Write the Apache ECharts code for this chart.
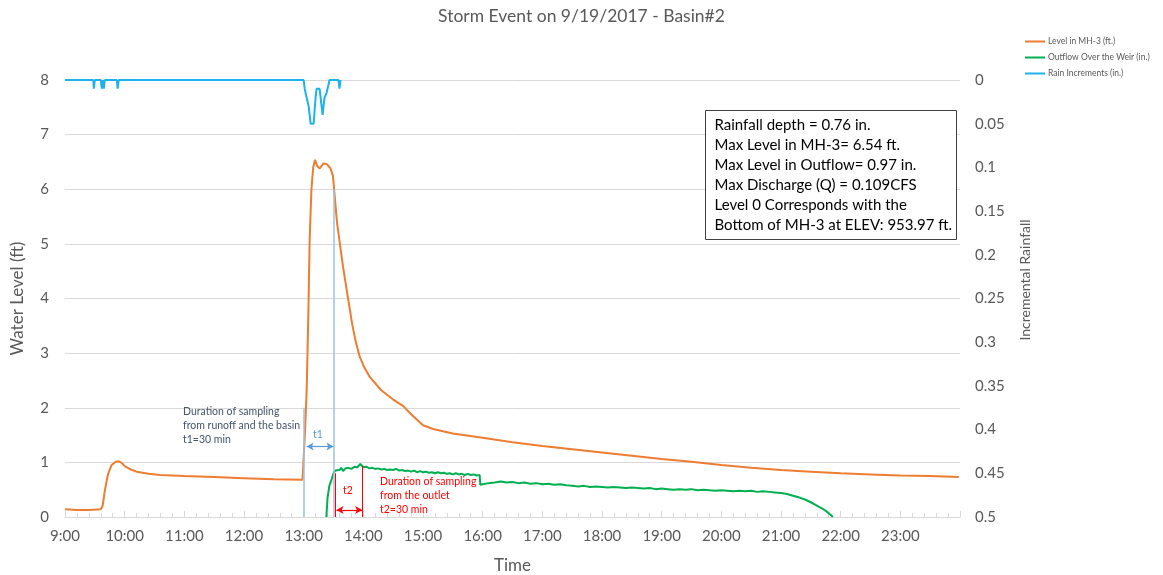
<!DOCTYPE html>
<html>
<head>
<meta charset="utf-8">
<script src="https://cdn.jsdelivr.net/npm/echarts@6/dist/echarts.min.js"></script>
<style>
  html, body { margin: 0; padding: 0; background: #fff; }
  #chart { width: 1163px; height: 575px; }
</style>
</head>
<body>
<div id="chart"></div>
<script>
// Time is in decimal hours of the day (9.5 = 9:30).

// Level in MH-3 (ft.)
const levelTime = [9.00, 9.20, 9.40, 9.60, 9.63, 9.67, 9.72, 9.78, 9.85, 9.90, 9.95, 10.00, 10.10, 10.20, 10.40, 10.60, 10.80, 11.00, 11.50, 12.00, 12.50, 12.98,
  13.00, 13.02, 13.05, 13.08, 13.10, 13.13, 13.16, 13.19, 13.23, 13.27, 13.33, 13.39, 13.45, 13.49, 13.51, 13.56, 13.66, 13.81, 13.87, 13.94, 14.02, 14.11, 14.30, 14.50, 14.67, 14.80, 15.00, 15.17,
  15.50, 16.00, 16.50, 17.00, 17.50, 18.00, 18.50, 19.00, 19.50, 20.00, 20.50, 21.00, 21.50, 22.00, 22.50, 23.00, 23.50, 23.98];
const levelFt = [0.14, 0.13, 0.13, 0.14, 0.20, 0.50, 0.78, 0.95, 1.01, 1.02, 0.99, 0.93, 0.87, 0.83, 0.79, 0.77, 0.76, 0.75, 0.73, 0.71, 0.69, 0.68,
  0.68, 1.50, 2.30, 3.80, 5.07, 6.00, 6.40, 6.54, 6.42, 6.38, 6.47, 6.46, 6.38, 6.25, 6.00, 5.38, 4.58, 3.55, 3.22, 2.93, 2.73, 2.56, 2.32, 2.15, 2.03, 1.88, 1.68, 1.61,
  1.53, 1.45, 1.37, 1.30, 1.24, 1.18, 1.12, 1.06, 1.01, 0.95, 0.90, 0.86, 0.83, 0.80, 0.78, 0.76, 0.75, 0.73];

// Outflow Over the Weir (in.)
const outflowTime = [13.38, 13.40, 13.43, 13.46, 13.50, 13.53, 13.56, 13.60, 13.63, 13.66, 13.70, 13.75, 13.80, 13.85, 13.90, 13.95, 14.00,
  14.05, 14.10, 14.15, 14.20, 14.25, 14.30, 14.35, 14.40, 14.45, 14.50, 14.55, 14.60, 14.65, 14.70, 14.75, 14.80, 14.85, 14.90, 14.95,
  15.00, 15.05, 15.10, 15.15, 15.20, 15.25, 15.30, 15.35, 15.40, 15.45, 15.50, 15.55, 15.60, 15.65, 15.70, 15.75, 15.80, 15.85, 15.90, 15.95,
  15.96, 16.00, 16.10, 16.20, 16.30, 16.40, 16.50, 16.60, 16.70, 16.80, 16.90, 17.00, 17.10, 17.20, 17.30, 17.40, 17.50, 17.60, 17.70, 17.80, 17.90,
  18.00, 18.10, 18.20, 18.30, 18.40, 18.50, 18.60, 18.70, 18.80, 18.90, 19.00, 19.10, 19.20, 19.30, 19.40, 19.50, 19.60, 19.70, 19.80, 19.90,
  20.00, 20.10, 20.20, 20.30, 20.40, 20.50, 20.60, 20.70, 20.80, 20.90, 21.00, 21.10, 21.20, 21.30, 21.40, 21.50, 21.60, 21.70, 21.80, 21.87];
const outflowIn = [0.00, 0.35, 0.57, 0.66, 0.80, 0.85, 0.88, 0.86, 0.90, 0.84, 0.89, 0.90, 0.88, 0.92, 0.91, 0.97, 0.91,
  0.92, 0.89, 0.90, 0.88, 0.89, 0.87, 0.88, 0.86, 0.87, 0.86, 0.88, 0.85, 0.86, 0.84, 0.85, 0.83, 0.85, 0.82, 0.84,
  0.82, 0.83, 0.81, 0.82, 0.80, 0.82, 0.80, 0.81, 0.79, 0.80, 0.78, 0.80, 0.78, 0.79, 0.77, 0.79, 0.77, 0.78, 0.76, 0.77,
  0.59, 0.60, 0.62, 0.63, 0.65, 0.63, 0.64, 0.62, 0.63, 0.61, 0.62, 0.60, 0.61, 0.59, 0.60, 0.58, 0.57, 0.56, 0.57, 0.55, 0.56,
  0.55, 0.54, 0.55, 0.54, 0.53, 0.54, 0.53, 0.52, 0.53, 0.51, 0.52, 0.51, 0.50, 0.51, 0.50, 0.51, 0.49, 0.50, 0.49, 0.48,
  0.49, 0.48, 0.47, 0.48, 0.47, 0.48, 0.46, 0.47, 0.46, 0.45, 0.44, 0.42, 0.39, 0.36, 0.32, 0.27, 0.21, 0.15, 0.07, 0.00];

// Rain Increments (in.) - one reading per minute around each burst
const rainTime = [9.000, 9.475, 9.483, 9.500, 9.600, 9.617, 9.633, 9.650, 9.667, 9.867, 9.883, 9.900,
  13.000, 13.017, 13.033, 13.050, 13.067, 13.083, 13.100, 13.117, 13.133, 13.150, 13.167, 13.183, 13.200, 13.217,
  13.233, 13.250, 13.267, 13.283, 13.300, 13.317, 13.333, 13.350, 13.367, 13.383, 13.400, 13.417, 13.433, 13.583, 13.600, 13.617];
const rainIn = [0, 0, 0.01, 0, 0, 0.01, 0, 0.01, 0, 0, 0.01, 0,
  0, 0.01, 0.015, 0.02, 0.02, 0.03, 0.04, 0.05, 0.05, 0.05, 0.05, 0.035, 0.02, 0.01,
  0.01, 0.01, 0.01, 0.01, 0.01, 0.04, 0.03, 0.02, 0.02, 0.015, 0.01, 0.005, 0, 0, 0.01, 0];

// Sampling windows
const t1Start = 13.0, t1End = 13.5;
const t1LineTop = [2.0, 6.0];
const t1ArrowLevel = 1.29;
const t2Start = 13.53, t2End = 13.98;
const t2LineTop = [0.80, 0.93];
const t2ArrowLevel = 0.13;

const xTickHours = [9, 10, 11, 12, 13, 14, 15, 16, 17, 18, 19, 20, 21, 22, 23];

const statsLines = [
  'Rainfall depth = 0.76 in.',
  'Max Level in MH-3= 6.54 ft.',
  'Max Level in Outflow= 0.97 in.',
  'Max Discharge (Q) = 0.109CFS',
  'Level 0 Corresponds with the',
  'Bottom of MH-3 at ELEV: 953.97 ft.'
];

const zip = (xs, ys) => xs.map((x, i) => [x, ys[i]]);

const FONT = 'Lato, "Open Sans", sans-serif';
const GREY = '#595959';
const BLUE_GUIDE = '#9dc3e6';
const BLUE_ARROW = '#5b9bd5';
const RED = '#ff0000';

const chart = echarts.init(document.getElementById('chart'), null, { renderer: 'canvas' });

chart.setOption({
  animation: false,
  textStyle: { fontFamily: FONT },
  title: {
    text: 'Storm Event on 9/19/2017 - Basin#2',
    left: 'center',
    top: 2,
    textStyle: { fontFamily: FONT, fontSize: 17.5, fontWeight: 'normal', color: GREY }
  },
  legend: {
    data: ['Level in MH-3 (ft.)', 'Outflow Over the Weir (in.)', 'Rain Increments (in.)'],
    orient: 'vertical',
    left: 1025,
    top: 37,
    padding: 0,
    itemWidth: 20,
    itemHeight: 2,
    itemGap: 7,
    icon: 'rect',
    textStyle: { fontFamily: FONT, fontSize: 8.5, color: GREY, padding: [0, 0, 0, -2] }
  },
  grid: { left: 65, right: 203, top: 80, bottom: 58, containLabel: false, outerBoundsMode: 'none' },
  xAxis: {
    type: 'value',
    min: 9,
    max: 24,
    interval: 1,
    name: 'Time',
    nameLocation: 'middle',
    nameGap: 40,
    nameTextStyle: { fontFamily: FONT, fontSize: 17, color: GREY },
    axisLine: { show: true, lineStyle: { color: '#d9d9d9', width: 1 } },
    axisTick: { show: true, inside: true, length: 6, lineStyle: { color: '#d9d9d9' } },
    minorTick: { show: true, splitNumber: 5, length: 4, lineStyle: { color: '#d9d9d9' } },
    axisLabel: {
      fontFamily: FONT, fontSize: 15, color: GREY, margin: 12,
      formatter: v => xTickHours.includes(v) ? v + ':00' : ''
    },
    splitLine: { show: false }
  },
  yAxis: [
    {
      type: 'value',
      min: 0,
      max: 8,
      interval: 1,
      name: 'Water Level (ft)',
      nameLocation: 'middle',
      nameGap: 39,
      nameRotate: 90,
      nameTextStyle: { fontFamily: FONT, fontSize: 17, color: GREY },
      axisLine: { show: false },
      axisTick: { show: false },
      axisLabel: { fontFamily: FONT, fontSize: 15, color: GREY, margin: 16 },
      splitLine: { show: true, lineStyle: { color: '#d9d9d9', width: 1 } }
    },
    {
      type: 'value',
      inverse: true,
      min: 0,
      max: 0.5,
      interval: 0.05,
      axisLine: { show: false },
      axisTick: { show: false },
      axisLabel: {
        fontFamily: FONT, fontSize: 15, color: GREY, margin: 15,
        formatter: v => String(+v.toFixed(2))
      },
      splitLine: { show: false }
    }
  ],
  series: [
    {
      name: 'Level in MH-3 (ft.)',
      type: 'line',
      yAxisIndex: 0,
      data: zip(levelTime, levelFt),
      showSymbol: false,
      symbol: 'none',
      lineStyle: { color: '#ed7d31', width: 2 },
      itemStyle: { color: '#ed7d31' },
      z: 3
    },
    {
      name: 'Outflow Over the Weir (in.)',
      type: 'line',
      yAxisIndex: 0,
      data: zip(outflowTime, outflowIn),
      showSymbol: false,
      symbol: 'none',
      lineStyle: { color: '#00b050', width: 2 },
      itemStyle: { color: '#00b050' },
      z: 3
    },
    {
      name: 'Rain Increments (in.)',
      type: 'line',
      yAxisIndex: 1,
      data: zip(rainTime, rainIn),
      showSymbol: false,
      symbol: 'none',
      lineStyle: { color: '#1cb3ec', width: 2 },
      itemStyle: { color: '#1cb3ec' },
      z: 3
    },
    {
      name: 'sampling windows',
      type: 'line',
      yAxisIndex: 0,
      data: [],
      z: 2,
      markLine: {
        silent: true,
        animation: false,
        label: { show: false },
        data: [
          [
            { coord: [t1Start, 0], symbol: 'none', lineStyle: { color: BLUE_GUIDE, width: 1.5, type: 'solid' } },
            { coord: [t1Start, t1LineTop[0]], symbol: 'none' }
          ],
          [
            { coord: [t1End, 0], symbol: 'none', lineStyle: { color: BLUE_GUIDE, width: 1.5, type: 'solid' } },
            { coord: [t1End, t1LineTop[1]], symbol: 'none' }
          ],
          [
            { coord: [t1Start + 0.05, t1ArrowLevel], symbol: 'arrow', symbolSize: [6, 7], lineStyle: { color: BLUE_ARROW, width: 1.2, type: 'solid' } },
            { coord: [t1End, t1ArrowLevel], symbol: 'arrow', symbolSize: [6, 7] }
          ],
          [
            { coord: [t2Start, 0], symbol: 'none', lineStyle: { color: RED, width: 1, type: 'solid' } },
            { coord: [t2Start, t2LineTop[0]], symbol: 'none' }
          ],
          [
            { coord: [t2End, 0], symbol: 'none', lineStyle: { color: RED, width: 1, type: 'solid' } },
            { coord: [t2End, t2LineTop[1]], symbol: 'none' }
          ],
          [
            { coord: [t2Start + 0.02, t2ArrowLevel], symbol: 'arrow', symbolSize: [6, 7], lineStyle: { color: RED, width: 1.2, type: 'solid' } },
            { coord: [t2End, t2ArrowLevel], symbol: 'arrow', symbolSize: [6, 7] }
          ]
        ]
      }
    }
  ],
  graphic: [
    {
      type: 'text',
      x: 1025,
      y: 280,
      rotation: Math.PI / 2,
      z: 10,
      style: {
        text: 'Incremental Rainfall',
        font: '14px ' + FONT,
        fill: GREY,
        align: 'center',
        verticalAlign: 'middle'
      }
    },
    {
      type: 'group',
      left: 705,
      top: 110,
      z: 100,
      children: [
        {
          type: 'rect',
          z: 100,
          shape: { x: 0, y: 0, width: 251, height: 129 },
          style: { fill: '#ffffff', stroke: '#404040', lineWidth: 1 }
        },
        {
          type: 'text',
          z: 101,
          x: 9,
          y: 5,
          style: {
            text: statsLines.join('\n'),
            font: '15px ' + FONT,
            fill: '#000000',
            lineHeight: 20
          }
        }
      ]
    },
    {
      type: 'text',
      left: 183,
      top: 405,
      z: 10,
      style: {
        text: 'Duration of sampling\nfrom runoff and the basin\nt1=30 min',
        font: '10.5px ' + FONT,
        fill: '#44546a',
        lineHeight: 14
      }
    },
    {
      type: 'text',
      left: 313,
      top: 429,
      z: 10,
      style: { text: 't1', font: '10.5px ' + FONT, fill: BLUE_ARROW }
    },
    {
      type: 'text',
      left: 343,
      top: 485,
      z: 10,
      style: { text: 't2', font: '10.5px ' + FONT, fill: RED }
    },
    {
      type: 'text',
      left: 380,
      top: 475,
      z: 10,
      style: {
        text: 'Duration of sampling\nfrom the outlet\nt2=30 min',
        font: '10.5px ' + FONT,
        fill: RED,
        lineHeight: 14
      }
    }
  ]
});
</script>
</body>
</html>
